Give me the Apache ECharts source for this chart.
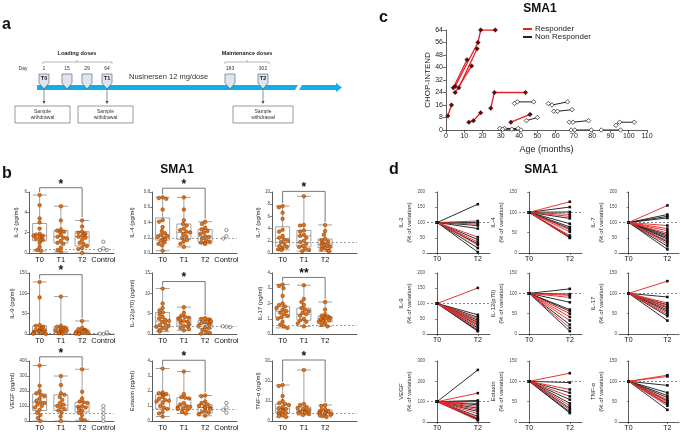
<!DOCTYPE html>
<html><head><meta charset="utf-8">
<script src="https://cdn.jsdelivr.net/npm/echarts@6/dist/echarts.min.js"></script>
<style>html,body{margin:0;padding:0;background:#fff}#c{width:681px;height:432px}</style>
</head><body><div id="c"></div>
<script>
const FONT = '"Liberation Sans", Arial, sans-serif';
const CATS = ['T0', 'T1', 'T2', 'Control'];

// ---------- panel b data ----------
const B_LABELS = ['IL-2 (pg/ml)', 'IL-4 (pg/ml)', 'IL-7 (pg/ml)', 'IL-9 (pg/ml)', 'IL-12(p70) (pg/ml)', 'IL-17 (pg/ml)', 'VEGF (pg/ml)', 'Eotaxin (pg/ml)', 'TNF-α (pg/ml)'];
const B_YMAX = [6, 0.8, 10, 150, 15, 4, 400, 4, 30];
const B_YINT = [2, 0.2, 2, 50, 5, 1, 100, 1, 10];
const B_DECIMALS = [0, 1, 0, 0, 0, 0, 0, 0, 0];
const B_DASH = [0.35, 0.19, 1.7, 3, 1.8, 0.55, 55, 0.8, 4];
const B_STAR = ['*', '*', '*', '*', '*', '**', '*', '*', '*'];
const B_BRACKET = [6.42, 0.85, 10.1, 146, 12.9, 3.71, 428, 4.05, 30.5];

const IL2_T0 = [5.7, 4.7, 3.4, 3.0, 2.4, 1.9, 1.8, 1.7, 1.7, 1.6, 1.5, 1.4, 1.3, 1.2, 1.0, 0.6, 0.3, 0.2];
const IL2_T1 = [4.6, 3.2, 2.3, 2.2, 2.1, 2.0, 1.8, 1.6, 1.5, 1.4, 1.2, 1.0, 0.9, 0.5, 0.3, 0.1];
const IL2_T2 = [3.2, 2.6, 2.1, 2.0, 1.9, 1.8, 1.7, 1.6, 1.5, 1.3, 1.0, 0.9, 0.7, 0.5, 0.4, 0.0];
const IL2_CTRL = [1.1, 0.45, 0.3, 0.3];
const IL2_BOX = [[0.2, 1.2, 1.7, 2.9, 5.7], [0.1, 1.0, 1.6, 2.2, 4.6], [0.0, 0.7, 1.6, 2.1, 3.2]];

const IL4_T0 = [0.73, 0.72, 0.71, 0.57, 0.43, 0.41, 0.34, 0.29, 0.26, 0.24, 0.22, 0.21, 0.2, 0.18, 0.16, 0.14, 0.12, 0.1, 0.03];
const IL4_T1 = [0.73, 0.57, 0.43, 0.38, 0.36, 0.32, 0.30, 0.28, 0.27, 0.25, 0.22, 0.2, 0.17, 0.15, 0.12, 0.08];
const IL4_T2 = [0.41, 0.38, 0.33, 0.31, 0.29, 0.27, 0.25, 0.22, 0.21, 0.19, 0.17, 0.15, 0.14, 0.13, 0.12];
const IL4_CTRL = [0.3, 0.22, 0.19];
const IL4_BOX = [[0.03, 0.17, 0.24, 0.46, 0.73], [0.08, 0.18, 0.27, 0.38, 0.73], [0.12, 0.14, 0.22, 0.31, 0.41]];

const IL7_T0 = [7.7, 7.5, 6.6, 5.6, 3.8, 3.5, 2.8, 2.5, 2.2, 2.0, 1.8, 1.5, 1.2, 1.0, 0.8, 0.6, 0.5];
const IL7_T1 = [9.3, 4.6, 4.5, 3.7, 3.5, 3.0, 2.8, 2.5, 2.0, 1.8, 1.5, 1.2, 1.0, 0.7, 0.5, 0.3];
const IL7_T2 = [4.6, 3.6, 3.0, 2.3, 2.1, 1.9, 1.7, 1.5, 1.3, 1.2, 1.0, 0.9, 0.8, 0.6, 0.4, 0.3];
const IL7_CTRL = [];
const IL7_BOX = [[0.5, 1.1, 2.4, 4.3, 7.7], [0.3, 1.0, 2.8, 3.7, 9.3], [0.3, 0.9, 1.5, 2.3, 4.6]];

const IL9_T0 = [128, 90, 22, 20, 18, 15, 12, 10, 9, 8, 7, 6, 5, 4, 3, 2, 1, 0];
const IL9_T1 = [92, 20, 18, 16, 14, 12, 10, 9, 8, 6, 5, 4, 3, 2, 1];
const IL9_T2 = [32, 15, 12, 10, 9, 8, 7, 6, 5, 4, 3, 2, 1, 0];
const IL9_CTRL = [0, 1, 1.5, 4];
const IL9_BOX = [[0, 4, 8, 20, 128], [0, 4, 10, 18, 92], [0, 3, 6, 10, 32]];

const IL12_T0 = [11.2, 7.5, 6.4, 5.8, 5.3, 4.8, 4.2, 3.8, 3.5, 3.2, 3.0, 2.5, 2.2, 2.0, 1.8, 1.5, 1.2, 1.0, 0.6];
const IL12_T1 = [6.6, 5.2, 4.5, 4.2, 4.0, 3.8, 3.5, 3.2, 3.0, 2.7, 2.4, 2.0, 1.8, 1.5, 1.2, 0.9];
const IL12_T2 = [3.9, 3.7, 3.5, 3.3, 3.1, 2.9, 2.7, 2.5, 2.2, 2.0, 1.7, 1.4, 1.0, 0.6, 0.3, 0.1];
const IL12_CTRL = [1.8, 1.9, 1.7];
const IL12_BOX = [[0.6, 1.8, 3.2, 5.3, 11.2], [0.9, 2.0, 3.2, 4.2, 6.6], [0.1, 1.4, 2.5, 3.3, 3.9]];

const IL17_T0 = [3.25, 3.15, 3.0, 2.5, 2.0, 1.9, 1.8, 1.7, 1.6, 1.5, 1.4, 1.3, 1.2, 1.1, 1.0, 0.8, 0.6, 0.5, 0.4];
const IL17_T1 = [3.2, 2.3, 2.1, 1.9, 1.7, 1.6, 1.5, 1.4, 1.3, 1.2, 1.0, 0.9, 0.8, 0.7, 0.5];
const IL17_T2 = [2.1, 1.6, 1.3, 1.2, 1.15, 1.1, 1.05, 1.0, 0.95, 0.9, 0.85, 0.8, 0.7, 0.6, 0.5];
const IL17_CTRL = [];
const IL17_BOX = [[0.4, 1.1, 1.5, 1.8, 3.25], [0.5, 0.9, 1.3, 1.7, 3.2], [0.5, 0.8, 1.0, 1.15, 2.1]];

const VEGF_T0 = [370, 235, 200, 185, 175, 165, 150, 135, 125, 120, 110, 100, 90, 75, 55, 40, 20, 0];
const VEGF_T1 = [300, 240, 185, 175, 160, 140, 120, 110, 100, 90, 80, 70, 55, 30, 0];
const VEGF_T2 = [345, 195, 150, 130, 125, 120, 100, 95, 90, 80, 70, 55, 40, 15, 5];
const VEGF_CTRL = [100, 75, 50, 25, 0];
const VEGF_BOX = [[0, 70, 125, 180, 370], [0, 70, 105, 175, 300], [5, 60, 95, 125, 345]];

const EOT_T0 = [3.5, 1.9, 1.85, 1.8, 1.75, 1.7, 1.6, 1.5, 1.4, 1.35, 1.3, 1.2, 1.0, 0.9, 0.8, 0.6, 0.5, 0.3];
const EOT_T1 = [3.3, 1.8, 1.6, 1.55, 1.5, 1.2, 1.1, 1.0, 0.95, 0.9, 0.85, 0.8, 0.75, 0.6, 0.5];
const EOT_T2 = [1.7, 1.65, 1.3, 1.2, 1.1, 1.0, 0.95, 0.9, 0.85, 0.8, 0.7, 0.6, 0.55, 0.45, 0.35];
const EOT_CTRL = [1.2, 0.9, 0.75, 0.55];
const EOT_BOX = [[0.3, 0.8, 1.35, 1.75, 3.5], [0.5, 0.75, 1.0, 1.55, 3.3], [0.35, 0.55, 0.9, 1.1, 1.7]];

const TNF_T0 = [18, 17.5, 12.5, 10, 9, 8.5, 8, 7, 6.5, 6, 5.5, 5, 4.5, 4, 3.5, 3, 2.5, 2];
const TNF_T1 = [25.5, 8.5, 8, 7, 6.5, 6, 5.5, 5, 4.8, 4.5, 4.2, 4, 3.5, 3];
const TNF_T2 = [8, 7.5, 6, 5.5, 5, 4.5, 4.2, 4, 3.8, 3.5, 3.2, 3, 2.5, 2];
const TNF_CTRL = [];
const TNF_BOX = [[2, 4, 6, 8.5, 18], [3, 4, 5, 7, 25.5], [2, 3, 4, 5.5, 8]];

// ---------- panel c data ----------
const C_RESPONDER = [
  [[1, 9], [3, 16]],
  [[4, 27], [11.5, 45]],
  [[5, 24], [14, 41]],
  [[7, 27], [17, 52]],
  [[5, 28], [17.5, 56], [19, 64], [27, 64]],
  [[12.5, 5], [15, 6], [19, 11]],
  [[24.5, 14], [26.5, 24], [43.5, 24]],
  [[35.5, 5], [46, 10]]
];
const C_NONRESPONDER = [
  [[29.5, 1], [32, 1], [39.5, 1]],
  [[31, 0.5], [36, 0.5], [41, 0]],
  [[37.5, 17], [39, 18], [48, 18]],
  [[44, 6], [50, 8]],
  [[56, 17], [58, 16], [66.5, 18]],
  [[59, 12], [61, 12], [69, 13]],
  [[67.5, 5], [69.5, 5], [78, 6]],
  [[68.5, 0], [70.5, 0], [79.5, 0]],
  [[85, 0], [95.5, 0]],
  [[93, 3], [95, 5], [103, 5]]
];

// ---------- panel d data ----------
const D_LABELS = ['IL-2', 'IL-4', 'IL-7', 'IL-9', 'IL-12(p70)', 'IL-17', 'VEGF', 'Eotaxin', 'TNF-α'];
const D_XLABELS = ['T0', 'T2'];
const D_YMAX = [200, 150, 200, 200, 150, 150, 300, 150, 150];
const D_YINT = [50, 50, 50, 50, 50, 50, 100, 50, 50];
const D_BLACK = [
  [160, 100, 90, 80, 44, 30, 16, 3],
  [113, 101, 85, 72, 64, 60, 40, 37],
  [126, 120, 115, 60, 55, 50, 46, 36, 22, 12],
  [63, 55, 45, 38, 30, 20, 12, 9],
  [111, 98, 78, 60, 56, 23, 7],
  [91, 72, 66, 60, 56, 44, 33],
  [256, 106, 100, 85, 68, 52, 28, 16, 12],
  [97, 72, 55, 46, 34, 25, 22],
  [90, 72, 65, 60, 52, 44, 30]
];
const D_RED = [
  [105, 95, 52, 36, 26],
  [126, 95, 90, 57, 52, 43, 38],
  [156, 90, 80, 73, 65, 40, 30],
  [151, 50, 40, 33, 25, 15],
  [95, 90, 50, 42, 33, 15],
  [130, 76, 70, 64, 52, 48],
  [142, 90, 77, 60, 41, 20, 8],
  [120, 80, 63, 40, 30],
  [115, 112, 55, 50, 46, 40]
];
const D_BASE = 100;

// ---------- panel a labels ----------
const A_DAYS = ['1', '15', '29', '64', '183', '302'];
const A_TAGS = ['T0', '', '', 'T1', '', 'T2'];

const B_SETS = [
  [IL2_T0, IL2_T1, IL2_T2, IL2_CTRL, IL2_BOX],
  [IL4_T0, IL4_T1, IL4_T2, IL4_CTRL, IL4_BOX],
  [IL7_T0, IL7_T1, IL7_T2, IL7_CTRL, IL7_BOX],
  [IL9_T0, IL9_T1, IL9_T2, IL9_CTRL, IL9_BOX],
  [IL12_T0, IL12_T1, IL12_T2, IL12_CTRL, IL12_BOX],
  [IL17_T0, IL17_T1, IL17_T2, IL17_CTRL, IL17_BOX],
  [VEGF_T0, VEGF_T1, VEGF_T2, VEGF_CTRL, VEGF_BOX],
  [EOT_T0, EOT_T1, EOT_T2, EOT_CTRL, EOT_BOX],
  [TNF_T0, TNF_T1, TNF_T2, TNF_CTRL, TNF_BOX]
];

// ---------- layout ----------
const ROW_TOP = [192, 273, 361];
const ROW_H = 61;
const B_LEFT = [29, 152, 272];
const B_W = 85;
const B_NAMEGAP = [10, 17, 5];
const D_LEFT = [427, 519, 619];
const D_W = [63, 63, 60];

const chart = echarts.init(document.getElementById('c'), null, {renderer: 'canvas'});

const grids = [], xAxes = [], yAxes = [], series = [];
const axisLine = {show: true, lineStyle: {color: '#333', width: 0.8}};

// panel b
for (let i = 0; i < 9; i++) {
  const r = Math.floor(i / 3), col = i % 3;
  grids.push({left: B_LEFT[col], top: ROW_TOP[r], width: B_W, height: ROW_H});
  const g = grids.length - 1;
  xAxes.push({type: 'category', gridIndex: g, data: CATS, jitter: 13, jitterOverlap: false, jitterMargin: 0.3,
    axisLine: axisLine, axisTick: {show: false},
    axisLabel: {fontSize: 7.5, margin: 3, color: '#111', fontFamily: FONT, interval: 0,
      formatter: v => (col === 2 && v === 'Control') ? '' : v}});
  const dec = B_DECIMALS[i];
  yAxes.push({type: 'value', gridIndex: g, min: 0, max: B_YMAX[i], interval: B_YINT[i],
    name: B_LABELS[i], nameLocation: 'middle', nameGap: B_NAMEGAP[col],
    nameTextStyle: {fontSize: 6, color: '#222', fontFamily: FONT},
    axisLine: axisLine, axisTick: {show: true, length: 2, lineStyle: {color: '#333', width: 0.6}},
    axisLabel: {fontSize: 4.5, margin: 2, color: '#444', fontFamily: FONT, formatter: v => v.toFixed(dec)},
    splitLine: {show: false}});
  const set = B_SETS[i];
  series.push({type: 'boxplot', xAxisIndex: g, yAxisIndex: g, data: set[4], boxWidth: [14, 14], silent: true,
    itemStyle: {color: 'rgba(255,255,255,0)', borderColor: '#8a8a8a', borderWidth: 0.8}, z: 1});
  const pts = [];
  for (let k = 0; k < 3; k++) set[k].forEach(v => pts.push([k, v]));
  series.push({type: 'scatter', xAxisIndex: g, yAxisIndex: g, data: pts, symbolSize: 3.6, z: 3,
    itemStyle: {color: '#e8700e', borderColor: '#7a3300', borderWidth: 0.5, opacity: 1},
    markLine: {silent: true, symbol: 'none', label: {show: false},
      lineStyle: {type: [2, 2], color: '#777', width: 0.7}, data: [{yAxis: B_DASH[i]}]}});
  if (set[3].length) {
    series.push({type: 'scatter', xAxisIndex: g, yAxisIndex: g, data: set[3].map(v => [3, v]), symbolSize: 3.4, z: 3,
      itemStyle: {color: '#fff', borderColor: '#666', borderWidth: 0.7, opacity: 1}});
  }
}

// panel d
for (let j = 0; j < 9; j++) {
  const r = Math.floor(j / 3), col = j % 3;
  grids.push({left: D_LEFT[col], top: ROW_TOP[r], width: D_W[col], height: ROW_H});
  const g = grids.length - 1;
  xAxes.push({type: 'value', gridIndex: g, min: -0.25, max: 1.3,
    axisLine: axisLine, splitLine: {show: false},
    axisTick: {show: true, length: 2, customValues: [0, 1], lineStyle: {color: '#333', width: 0.6}},
    axisLabel: {fontSize: 7, margin: 3, color: '#111', fontFamily: FONT, customValues: [0, 1],
      formatter: v => D_XLABELS[Math.round(v)]}});
  yAxes.push({type: 'value', gridIndex: g, min: 0, max: D_YMAX[j], interval: D_YINT[j],
    name: D_LABELS[j] + '\n(% of variation)', nameLocation: 'middle', nameGap: 13,
    nameTextStyle: {fontSize: 6, color: '#222', fontFamily: FONT, lineHeight: 8},
    axisLine: axisLine, axisTick: {show: true, length: 2, lineStyle: {color: '#333', width: 0.6}},
    axisLabel: {fontSize: 4.5, margin: 2, color: '#444', fontFamily: FONT},
    splitLine: {show: false}});
  const mk = (v, color, first) => ({type: 'line', xAxisIndex: g, yAxisIndex: g, data: [[0, D_BASE], [1, v]],
    symbol: 'rect', symbolSize: 2.6, showSymbol: true, silent: true,
    lineStyle: {color: color, width: 0.95}, itemStyle: {color: '#111'}, z: color === '#222' ? 2 : 3,
    markLine: first ? {silent: true, symbol: 'none', label: {show: false},
      lineStyle: {type: [2, 2], color: '#555', width: 0.7}, data: [{yAxis: D_BASE}]} : undefined});
  D_BLACK[j].forEach((v, k) => series.push(mk(v, '#222', k === 0)));
  D_RED[j].forEach(v => series.push(mk(v, '#ea2a2a', false)));
}

// panel c
grids.push({left: 446, top: 30, width: 201, height: 100});
const gc = grids.length - 1;
xAxes.push({type: 'value', gridIndex: gc, min: 0, max: 110, interval: 10,
  name: 'Age (months)', nameLocation: 'middle', nameGap: 15,
  nameTextStyle: {fontSize: 9, color: '#222', fontFamily: FONT},
  axisLine: axisLine, axisTick: {show: true, length: 3, lineStyle: {color: '#333', width: 0.7}},
  axisLabel: {fontSize: 7, margin: 3, color: '#222', fontFamily: FONT}, splitLine: {show: false}});
yAxes.push({type: 'value', gridIndex: gc, min: 0, max: 64, interval: 8,
  name: 'CHOP-INTEND', nameLocation: 'middle', nameGap: 14,
  nameTextStyle: {fontSize: 8, color: '#222', fontFamily: FONT},
  axisLine: axisLine, axisTick: {show: true, length: 3, lineStyle: {color: '#333', width: 0.7}},
  axisLabel: {fontSize: 7, margin: 3, color: '#222', fontFamily: FONT}, splitLine: {show: false}});
C_NONRESPONDER.forEach(seg => series.push({type: 'line', name: 'Non Responder', xAxisIndex: gc, yAxisIndex: gc,
  data: seg, symbol: 'diamond', symbolSize: 4.5, showSymbol: true, silent: true, z: 3,
  lineStyle: {color: '#222', width: 1}, itemStyle: {color: '#fff', borderColor: '#333', borderWidth: 0.8}}));
C_RESPONDER.forEach(seg => series.push({type: 'line', name: 'Responder', xAxisIndex: gc, yAxisIndex: gc,
  data: seg, symbol: 'diamond', symbolSize: 4.5, showSymbol: true, silent: true, z: 4,
  lineStyle: {color: '#ec1f24', width: 1.3}, itemStyle: {color: '#5a0b0b', borderColor: '#5a0b0b', borderWidth: 0.5}}));

const option = {
  animation: false,
  backgroundColor: '#fff',
  textStyle: {fontFamily: FONT},
  grid: grids, xAxis: xAxes, yAxis: yAxes, series: series,
  legend: {orient: 'vertical', left: 523, top: 25, itemWidth: 9, itemHeight: 2, itemGap: 0, padding: 0,
    textStyle: {fontSize: 8, color: '#222', fontFamily: FONT, padding: [0, 0, 0, -2]},
    data: [{name: 'Responder', icon: 'rect', itemStyle: {color: '#ec1f24', borderWidth: 0}},
           {name: 'Non Responder', icon: 'rect', itemStyle: {color: '#222', borderWidth: 0}}]}
};
chart.setOption(option);

// ---------- graphics: letters, titles, panel a, brackets ----------
const G = [];
const txt = (x, y, text, size, opts = {}) => G.push({type: 'text', x: x, y: y, silent: true, style: Object.assign({
  text: text, fontSize: size, fontFamily: FONT, fill: '#111', align: 'left', verticalAlign: 'middle'}, opts)});
const line = (x1, y1, x2, y2, stroke, w) => G.push({type: 'line', silent: true, shape: {x1, y1, x2, y2}, style: {stroke: stroke, lineWidth: w}});

txt(2, 25, 'a', 16, {fontWeight: 'bold'});
txt(2, 174, 'b', 16, {fontWeight: 'bold'});
txt(379, 18, 'c', 16, {fontWeight: 'bold'});
txt(389, 170, 'd', 16, {fontWeight: 'bold'});
txt(177, 170, 'SMA1', 12, {fontWeight: 'bold', align: 'center'});
txt(541, 170, 'SMA1', 12, {fontWeight: 'bold', align: 'center'});
txt(540, 9, 'SMA1', 12, {fontWeight: 'bold', align: 'center'});

// panel a schematic
const AX = [44, 67, 87, 107, 230, 263];
txt(77, 53, 'Loading doses', 5.5, {fontWeight: 'bold', align: 'center', fill: '#222'});
txt(247, 53, 'Maintenance doses', 5.5, {fontWeight: 'bold', align: 'center', fill: '#222'});
G.push({type: 'polyline', silent: true, shape: {points: [[43, 64], [43, 62], [112, 62], [112, 64]]}, style: {stroke: '#888', lineWidth: 0.6, fill: null}});
line(77, 62, 77, 60, '#888', 0.6);
G.push({type: 'polyline', silent: true, shape: {points: [[225, 64], [225, 62], [269, 62], [269, 64]]}, style: {stroke: '#888', lineWidth: 0.6, fill: null}});
line(247, 62, 247, 60, '#888', 0.6);
txt(23, 69, 'Day', 5, {align: 'center', fill: '#333'});
G.push({type: 'polygon', silent: true, shape: {points: [[37, 85], [298, 85], [295, 90], [37, 90]]}, style: {fill: '#12aee8'}});
G.push({type: 'polygon', silent: true, shape: {points: [[302, 85], [336, 85], [336, 83], [342, 87.5], [336, 92], [336, 90], [299, 90]]}, style: {fill: '#12aee8'}});
txt(129, 77, 'Nusinersen 12 mg/dose', 7.5, {fill: '#333'});
AX.forEach((x, k) => {
  txt(x, 69, A_DAYS[k], 5, {align: 'center', fill: '#333'});
  G.push({type: 'polygon', silent: true, shape: {points: [[x - 5, 74], [x + 5, 74], [x + 5, 83], [x, 89], [x - 5, 83]]},
    style: {fill: '#dfe5ee', stroke: '#4a5568', lineWidth: 0.6}});
  if (A_TAGS[k]) {
    txt(x, 78.5, A_TAGS[k], 5.5, {fontWeight: 'bold', align: 'center', fill: '#222'});
    line(x, 90, x, 102, '#444', 0.6);
    G.push({type: 'polygon', silent: true, shape: {points: [[x - 1.5, 101], [x + 1.5, 101], [x, 104]]}, style: {fill: '#444'}});
  }
});
[[15, 55], [78, 55], [233, 60]].forEach(b => {
  G.push({type: 'rect', silent: true, shape: {x: b[0], y: 106, width: b[1], height: 17}, style: {fill: '#fff', stroke: '#555', lineWidth: 0.6}});
  txt(b[0] + b[1] / 2, 114.5, 'Sample\nwithdrawal', 5, {align: 'center', fill: '#333', lineHeight: 6});
});

// significance brackets (panel b)
for (let i = 0; i < 9; i++) {
  const set = B_SETS[i];
  const p0 = chart.convertToPixel({gridIndex: i}, [0, B_BRACKET[i]]);
  const p2 = chart.convertToPixel({gridIndex: i}, [2, B_BRACKET[i]]);
  const m0 = chart.convertToPixel({gridIndex: i}, [0, Math.max.apply(null, set[0])]);
  const m2 = chart.convertToPixel({gridIndex: i}, [2, Math.max.apply(null, set[2])]);
  const l0 = Math.max(p0[1], m0[1] - 3), l2 = Math.max(p2[1], m2[1] - 3);
  G.push({type: 'polyline', silent: true, shape: {points: [[p0[0], l0], [p0[0], p0[1]], [p2[0], p2[1]], [p2[0], l2]]},
    style: {stroke: '#555', lineWidth: 0.8, fill: null}});
  txt((p0[0] + p2[0]) / 2, p0[1] - 3.5, B_STAR[i], 12, {fontWeight: 'bold', align: 'center', fill: '#111'});
}

chart.setOption({graphic: {elements: G}});
</script></body></html>
